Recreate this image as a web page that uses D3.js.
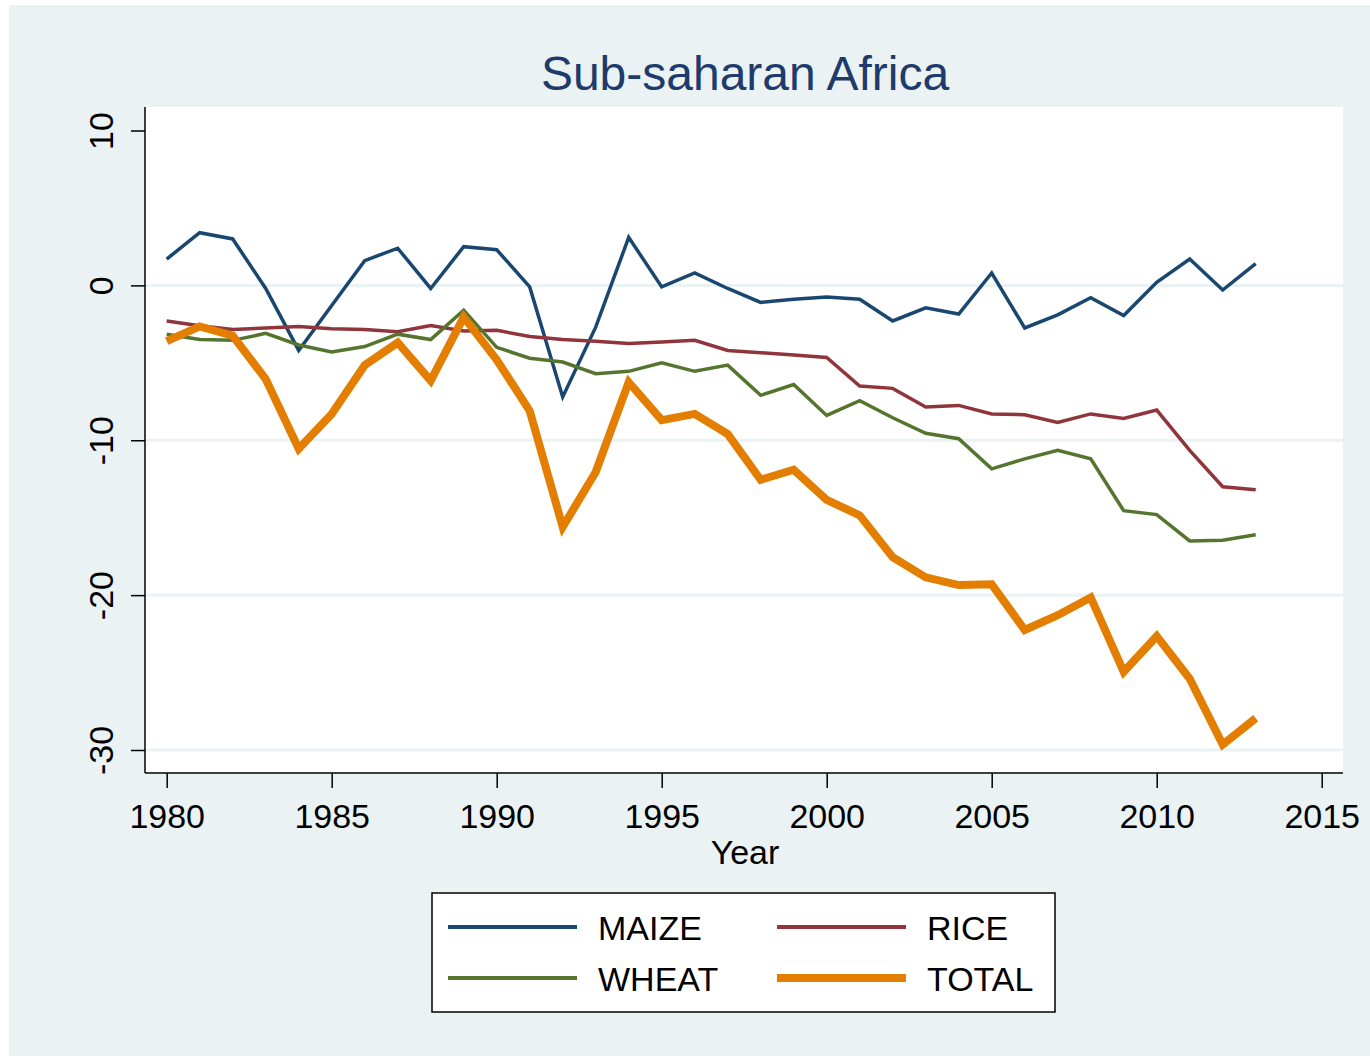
<!DOCTYPE html>
<html>
<head>
<meta charset="utf-8">
<script src="https://cdn.jsdelivr.net/npm/d3@7"></script>
<style>
  body { margin: 0; background: #fff; }
  text { font-family: "Liberation Sans", Arial, sans-serif; }
</style>
</head>
<body>
<div id="vis"></div>
<script>
// years 1980..2013
var years = d3.range(1980, 2014);

var maize = [1.7, 3.4, 3.0, -0.2, -4.2, -1.3, 1.6, 2.4, -0.2, 2.5, 2.3, -0.1,
  -7.2, -2.7, 3.1, -0.1, 0.8, -0.2, -1.1, -0.9, -0.75, -0.9, -2.3, -1.45,
  -1.85, 0.8, -2.75, -1.9, -0.8, -1.95, 0.2, 1.7, -0.3, 1.4];
var rice = [-2.3, -2.6, -2.85, -2.75, -2.65, -2.8, -2.85, -3.0, -2.6, -2.95, -2.9, -3.3,
  -3.5, -3.6, -3.75, -3.65, -3.55, -4.2, -4.35, -4.5, -4.65, -6.5, -6.65, -7.85,
  -7.75, -8.3, -8.35, -8.85, -8.3, -8.6, -8.05, -10.65, -13.0, -13.2];
var wheat = [-3.15, -3.5, -3.55, -3.1, -3.85, -4.3, -3.95, -3.15, -3.5, -1.6, -4.0, -4.7,
  -4.95, -5.7, -5.55, -5.0, -5.55, -5.15, -7.1, -6.4, -8.4, -7.45, -8.55, -9.55,
  -9.9, -11.85, -11.2, -10.65, -11.2, -14.55, -14.8, -16.5, -16.45, -16.1];
var total = [-3.6, -2.65, -3.25, -6.05, -10.55, -8.3, -5.15, -3.7, -6.15, -2.05, -4.8, -8.1,
  -15.6, -12.05, -6.25, -8.7, -8.3, -9.6, -12.55, -11.9, -13.85, -14.85, -17.55, -18.85,
  -19.35, -19.3, -22.25, -21.3, -20.15, -24.95, -22.65, -25.4, -29.65, -27.95];

var xTicks = [1980, 1985, 1990, 1995, 2000, 2005, 2010, 2015];
var yTicks = [10, 0, -10, -20, -30];
var gridTicks = [0, -10, -20, -30];

var series = [
  { name: "MAIZE", values: maize, color: "#1a476f", width: 3.5 },
  { name: "RICE", values: rice, color: "#90353b", width: 3.5 },
  { name: "WHEAT", values: wheat, color: "#55752f", width: 3.5 },
  { name: "TOTAL", values: total, color: "#e37e00", width: 8 }
];

var W = 1370, H = 1056;
var svg = d3.select("#vis").append("svg").attr("width", W).attr("height", H);

// outer background
svg.append("rect").attr("x", 9).attr("y", 5).attr("width", W - 9).attr("height", H - 5)
  .attr("fill", "#eaf2f3");

// plot region
var plot = { left: 145, right: 1343, top: 107, bottom: 773 };
svg.append("rect").attr("x", plot.left).attr("y", plot.top)
  .attr("width", plot.right - plot.left).attr("height", plot.bottom - plot.top)
  .attr("fill", "#fff");

var x = d3.scaleLinear().domain([1980, 2015]).range([166.7, 1321.7]);
var y = d3.scaleLinear().domain([10, -30]).range([130.5, 750]);

// gridlines
svg.append("g").selectAll("line").data(gridTicks).enter().append("line")
  .attr("x1", plot.left).attr("x2", plot.right)
  .attr("y1", d => y(d)).attr("y2", d => y(d))
  .attr("stroke", "#eaf2f3").attr("stroke-width", 3);

// y axis (plain hyphen for negatives, like the original)
var yAxis = d3.axisLeft(y).tickValues(yTicks).tickFormat(d => String(d))
  .tickSize(14).tickPadding(10).tickSizeOuter(0);
var gy = svg.append("g").attr("transform", "translate(" + plot.left + ",0)").call(yAxis);
gy.select(".domain").attr("d", "M0," + plot.top + "V" + plot.bottom).attr("stroke", "#000").attr("stroke-width", 1.5);
gy.selectAll(".tick line").attr("stroke", "#000").attr("stroke-width", 1.5);
gy.selectAll(".tick text")
  .attr("font-size", 34).attr("fill", "#000")
  .attr("text-anchor", "middle")
  .attr("x", 0).attr("dy", 0)
  .attr("transform", "translate(-32,0) rotate(-90)");

// x axis
var xAxis = d3.axisBottom(x).tickValues(xTicks).tickFormat(d => String(d))
  .tickSize(15).tickPadding(16).tickSizeOuter(0);
var gx = svg.append("g").attr("transform", "translate(0," + plot.bottom + ")").call(xAxis);
gx.select(".domain").attr("d", "M" + plot.left + ",0H" + plot.right).attr("stroke", "#000").attr("stroke-width", 1.5);
gx.selectAll(".tick line").attr("stroke", "#000").attr("stroke-width", 1.5);
gx.selectAll(".tick text").attr("font-size", 34).attr("fill", "#000");

// x title
svg.append("text").attr("x", 745).attr("y", 864).attr("text-anchor", "middle")
  .attr("font-size", 34).attr("fill", "#000").text("Year");

// title
svg.append("text").attr("x", 745).attr("y", 90).attr("text-anchor", "middle")
  .attr("font-size", 48).attr("fill", "#1e3b6b").text("Sub-saharan Africa");

// lines
var line = d3.line().x((d, i) => x(years[i])).y(d => y(d));
svg.append("g").selectAll("path").data(series).enter().append("path")
  .attr("d", d => line(d.values))
  .attr("fill", "none")
  .attr("stroke", d => d.color)
  .attr("stroke-width", d => d.width)
  .attr("stroke-linejoin", "miter");

// legend
var lg = svg.append("g");
lg.append("rect").attr("x", 432).attr("y", 893).attr("width", 623).attr("height", 119)
  .attr("fill", "#fff").attr("stroke", "#000").attr("stroke-width", 1.5);
var legendPos = [
  { lx: 448, tx: 598, ly: 927 },
  { lx: 777, tx: 927, ly: 927 },
  { lx: 448, tx: 598, ly: 978 },
  { lx: 777, tx: 927, ly: 978 }
];
series.forEach(function (s, i) {
  var p = legendPos[i];
  lg.append("line").attr("x1", p.lx).attr("x2", p.lx + 129)
    .attr("y1", p.ly).attr("y2", p.ly)
    .attr("stroke", s.color).attr("stroke-width", s.name === "TOTAL" ? 8 : 4);
  lg.append("text").attr("x", p.tx).attr("y", p.ly + 13)
    .attr("font-size", 34).attr("fill", "#000").text(s.name);
});
</script>
</body>
</html>
